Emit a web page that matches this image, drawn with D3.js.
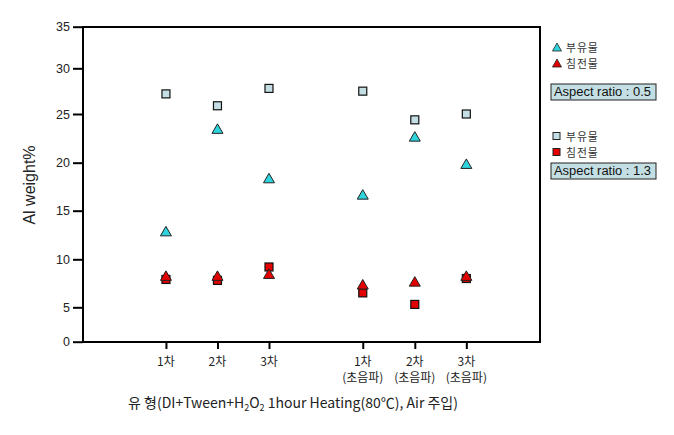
<!DOCTYPE html>
<html><head><meta charset="utf-8">
<script src="https://cdn.jsdelivr.net/npm/d3@7"></script>
<style>body{margin:0;background:#fff}svg{display:block}</style>
</head><body>
<svg id="c" width="674" height="435"></svg>
<script>
const categories = ["1차", "2차", "3차", "1차|(초음파)", "2차|(초음파)", "3차|(초음파)"];
const xPositions = [1, 2, 3, 4.82, 5.83, 6.83];
const yTicks = [0, 5, 10, 15, 20, 25, 30, 35];
const suspAR05 = [12.9, 23.5, 18.4, 16.7, 22.7, 19.9];
const sedAR05 = [8.3, 8.3, 8.5, 7.4, 7.7, 8.3];
const suspAR13 = [27.2, 25.9, 27.8, 27.5, 24.4, 25.0];
const sedAR13 = [7.9, 7.8, 9.2, 6.5, 5.3, 8.0];
const legendLabels = ["부유물", "침전물"];
const boxLabels = ["Aspect ratio : 0.5", "Aspect ratio : 1.3"];

const FONT = "'Liberation Sans', Arial, 'Noto Sans CJK KR', sans-serif";
const KFONT = "'Noto Sans CJK KR', 'Liberation Sans', sans-serif";
const C_CYAN = "#2ed3dc", C_RED = "#e30000", C_LIGHT = "#c4dfe3";

const svg = d3.select("#c");
const L = 83, R = 540, T = 27, B = 342;
const x = d3.scaleLinear().domain([-0.61, 8.26]).range([L, R]);
// the reference's value axis is not evenly spaced: piecewise-linear scale through its tick positions
const y = d3.scaleLinear().domain(yTicks).range([341.7, 307.3, 259.3, 210.7, 162.7, 114, 68.3, 26.7]);

// frame
svg.append("rect").attr("x", L).attr("y", T).attr("width", R - L).attr("height", B - T)
  .attr("fill", "none").attr("stroke", "#000").attr("stroke-width", 2);

// y axis
const ya = svg.append("g").attr("transform", `translate(${L},0)`)
  .call(d3.axisLeft(y).tickValues(yTicks).tickSize(10).tickPadding(3).tickFormat(d3.format("d")));
ya.select(".domain").remove();
ya.selectAll("line").attr("stroke", "#000").attr("stroke-width", 2);
ya.selectAll("text").attr("font-family", FONT).attr("font-size", 12.5).attr("fill", "#222");

// x axis
const xa = svg.append("g").attr("transform", `translate(0,${B})`)
  .call(d3.axisBottom(x).tickValues(xPositions).tickSize(7).tickFormat(""));
xa.select(".domain").remove();
xa.selectAll("line").attr("stroke", "#000").attr("stroke-width", 2);
categories.forEach((c, i) => {
  const parts = c.split("|");
  parts.forEach((p, j) => {
    svg.append("text").attr("x", x(xPositions[i])).attr("y", 366 + j * 16)
      .attr("text-anchor", "middle").attr("font-family", KFONT).attr("font-size", 12)
      .attr("fill", "#222").text(p);
  });
});

// axis titles
svg.append("text").attr("transform", "translate(35,185) rotate(-90)")
  .attr("text-anchor", "middle").attr("font-family", FONT).attr("font-size", 16)
  .attr("fill", "#222").text("Al weight%");
const xt = svg.append("text").attr("x", 293).attr("y", 408).attr("text-anchor", "middle")
  .attr("font-family", KFONT).attr("font-size", 14).attr("fill", "#222");
xt.append("tspan").text("유 형(DI+Tween+H");
xt.append("tspan").attr("font-size", 9).attr("dy", 3).text("2");
xt.append("tspan").attr("dy", -3).text("O");
xt.append("tspan").attr("font-size", 9).attr("dy", 3).text("2");
xt.append("tspan").attr("dy", -3).text(" 1hour Heating(80℃), Air 주입)");

// markers
const tri = (w, h) => `M0,${-h/2}L${w/2},${h/2}L${-w/2},${h/2}Z`;
function squares(data, fill) {
  svg.append("g").selectAll("rect").data(data).join("rect")
    .attr("x", (d, i) => x(xPositions[i]) - 4).attr("y", d => y(d) - 4)
    .attr("width", 8).attr("height", 8).attr("fill", fill)
    .attr("stroke", "#111").attr("stroke-width", 1.2);
}
function triangles(data, fill) {
  svg.append("g").selectAll("path").data(data).join("path")
    .attr("transform", (d, i) => `translate(${x(xPositions[i])},${y(d)})`)
    .attr("d", tri(11, 9.5)).attr("fill", fill)
    .attr("stroke", "#222").attr("stroke-width", 1);
}
squares(suspAR13, C_LIGHT);
squares(sedAR13, C_RED);
triangles(suspAR05, C_CYAN);
triangles(sedAR05, C_RED);

// legend
const lg = svg.append("g");
[[C_CYAN, 47], [C_RED, 63]].forEach(([col, cy], i) => {
  lg.append("path").attr("transform", `translate(557,${cy})`).attr("d", tri(9, 8))
    .attr("fill", col).attr("stroke", "#222").attr("stroke-width", 0.8);
  lg.append("text").attr("x", 566).attr("y", cy + 4.5).attr("font-family", KFONT)
    .attr("font-size", 10.8).attr("letter-spacing", 1).attr("fill", "#333").text(legendLabels[i]);
});
[[C_LIGHT, 136], [C_RED, 152]].forEach(([col, cy], i) => {
  lg.append("rect").attr("x", 553).attr("y", cy - 3.5).attr("width", 7).attr("height", 7)
    .attr("fill", col).attr("stroke", "#222").attr("stroke-width", 1);
  lg.append("text").attr("x", 566).attr("y", cy + 4.5).attr("font-family", KFONT)
    .attr("font-size", 10.8).attr("letter-spacing", 1).attr("fill", "#333").text(legendLabels[i]);
});
[[84, boxLabels[0]], [163, boxLabels[1]]].forEach(([by, t]) => {
  lg.append("rect").attr("x", 551).attr("y", by).attr("width", 105).attr("height", 16)
    .attr("fill", C_LIGHT).attr("stroke", "#222").attr("stroke-width", 1);
  lg.append("text").attr("x", 554).attr("y", by + 12).attr("font-family", FONT)
    .attr("font-size", 12.5).attr("textLength", 97).attr("lengthAdjust", "spacingAndGlyphs")
    .attr("fill", "#111").text(t);
});
</script>
</body></html>
